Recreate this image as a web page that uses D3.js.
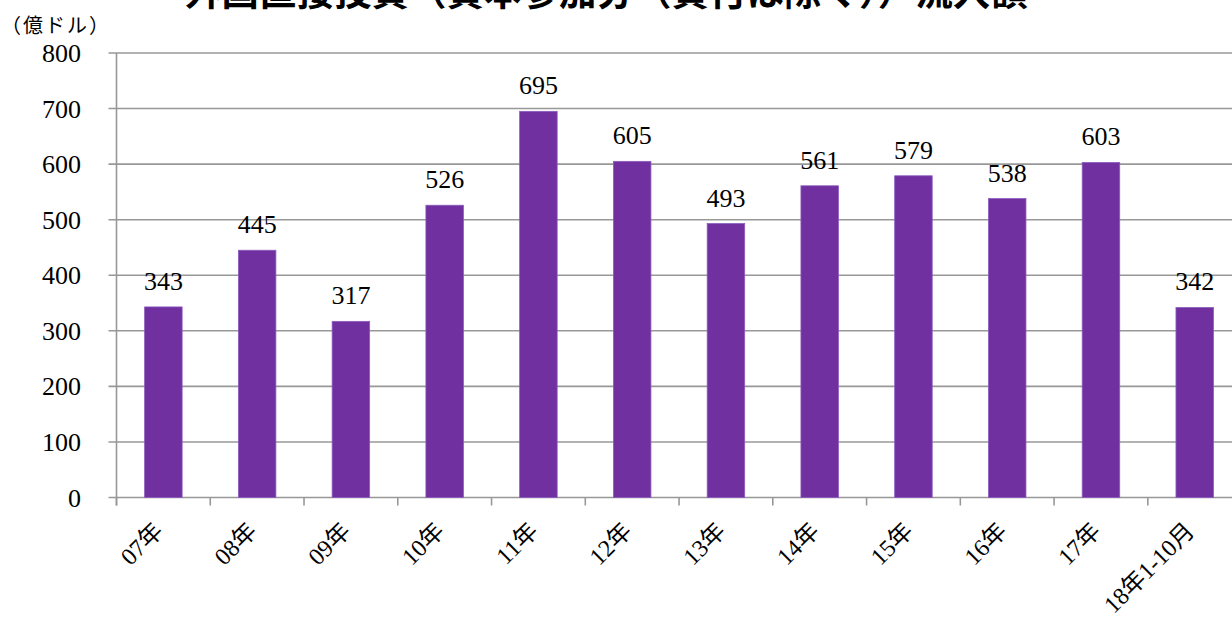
<!DOCTYPE html>
<html><head><meta charset="utf-8">
<script src="https://cdn.jsdelivr.net/npm/d3@7"></script>
<style>
html,body{margin:0;padding:0;background:#fff;overflow:hidden;}
svg{display:block;}
</style></head>
<body>
<svg id="chart" width="1232" height="626"></svg>
<script>
const title = "外国直接投資（資本参加分（貸付は除く））流入額";
const unitLabel = "（億ドル）";
const categories = ["07年","08年","09年","10年","11年","12年","13年","14年","15年","16年","17年","18年1-10月"];
const values = [343,445,317,526,695,605,493,561,579,538,603,342];
const yTicks = [0,100,200,300,400,500,600,700,800];

const svg = d3.select("#chart");
const plotLeft = 116.5, plotRight = 1241.6, plotTop = 53, plotBottom = 497.5;
const serif = "Liberation Serif, DejaVu Serif, Noto Sans CJK JP, serif";

const x = d3.scaleBand().domain(categories).range([plotLeft, plotRight]).paddingInner(0.6).paddingOuter(0.3);
const xb = d3.scaleBand().domain(categories).range([plotLeft, plotRight]);
const y = d3.scaleLinear().domain([0, 800]).range([plotBottom, plotTop]);

// gridlines
svg.append("g").selectAll("line").data(yTicks).join("line")
  .attr("x1", plotLeft - 8).attr("x2", 1232)
  .attr("y1", d => y(d)).attr("y2", d => y(d))
  .attr("stroke", "#989898").attr("stroke-width", 1.6);

// y axis line
svg.append("line").attr("x1", plotLeft).attr("x2", plotLeft).attr("y1", plotTop).attr("y2", plotBottom + 8)
  .attr("stroke", "#989898").attr("stroke-width", 1.6);

// y labels
svg.append("g").selectAll("text").data(yTicks).join("text")
  .attr("x", 81).attr("y", d => y(d) + 9)
  .attr("text-anchor", "end")
  .style("font-family", serif).attr("font-size", 26).attr("fill", "#000")
  .text(d => d);

// x ticks at boundaries
const bounds = categories.map(c => xb(c)).concat([xb(categories[categories.length-1]) + xb.bandwidth()]);
svg.append("g").selectAll("line").data(bounds).join("line")
  .attr("x1", d => d).attr("x2", d => d).attr("y1", plotBottom).attr("y2", plotBottom + 8)
  .attr("stroke", "#989898").attr("stroke-width", 1.6);

// bars
svg.append("g").selectAll("rect").data(values).join("rect")
  .attr("x", (d, i) => x(categories[i]))
  .attr("width", x.bandwidth())
  .attr("y", d => y(d))
  .attr("height", d => y(0) - y(d))
  .attr("fill", "#7030A0")
  .attr("stroke", "#8c5bbd").attr("stroke-width", 0.8);

// value labels
svg.append("g").selectAll("text").data(values).join("text")
  .attr("x", (d, i) => xb(categories[i]) + xb.bandwidth() / 2)
  .attr("y", d => y(d) - 17)
  .attr("text-anchor", "middle")
  .style("font-family", serif).attr("font-size", 26).attr("fill", "#000")
  .text(d => d);

// x labels rotated
svg.append("g").selectAll("text").data(categories).join("text")
  .attr("transform", c => `translate(${xb(c) + xb.bandwidth() / 2 + 1},${plotBottom + 35}) rotate(-45)`)
  .attr("text-anchor", "end")
  .style("font-family", serif).attr("font-size", 24).attr("fill", "#000")
  .text(c => c);

// title (cut at top edge as in the reference)
svg.append("text").attr("x", 606).attr("y", 5)
  .attr("text-anchor", "middle")
  .style("font-family", "Noto Sans CJK JP, sans-serif").attr("font-weight", "bold")
  .attr("font-size", 37.5).attr("fill", "#000")
  .text(title);

// unit label
svg.append("text").attr("x", 1).attr("y", 33)
  .style("font-family", "Noto Sans CJK JP, serif").attr("font-size", 20).attr("fill", "#000")
  .attr("textLength", 108)
  .text(unitLabel);
</script>
</body></html>
